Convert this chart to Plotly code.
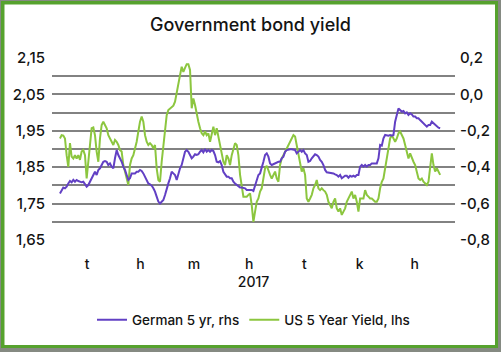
import numpy as np
import pandas as pd
import plotly.graph_objects as go

# ---------------- data ----------------
title_text = "Government bond yield"
month_labels = ["t", "h", "m", "h", "t", "k", "h"]
month_centers = ["2017-01-16", "2017-02-14 12:00", "2017-03-16", "2017-04-15 12:00",
                 "2017-05-16", "2017-06-15 12:00", "2017-07-16"]
year_label = "2017"
period_start = "2017-01-01"
period_days = 210

us_5y = [
    1.929, 1.938, 1.937, 1.929, 1.883, 1.851, 1.916, 1.879, 1.874, 1.883,
    1.874, 1.883, 1.870, 1.893, 1.897, 1.883, 1.819, 1.865, 1.911, 1.957,
    1.959, 1.938, 1.893, 1.865, 1.929, 1.966, 1.975, 1.966, 1.957, 1.938,
    1.929, 1.916, 1.911, 1.925, 1.920, 1.911, 1.897, 1.893, 1.856, 1.838,
    1.819, 1.801, 1.856, 1.874, 1.883, 1.902, 1.920, 1.948, 1.975, 1.989,
    1.975, 1.938, 1.920, 1.911, 1.916, 1.911, 1.902, 1.911,
    1.847, 1.815, 1.810, 1.865, 1.911, 1.957, 1.993, 2.007, 2.012, 2.014,
    2.019, 2.030, 2.058, 2.076, 2.103, 2.126, 2.112, 2.123, 2.133, 2.133,
    2.117, 2.012, 2.039, 2.021, 1.993, 1.975, 1.957, 1.943, 1.938, 1.948,
    1.938, 1.943, 1.920, 1.943, 1.961, 1.938, 1.957, 1.934, 1.911, 1.883,
    1.865, 1.856, 1.883, 1.874, 1.856, 1.883, 1.902, 1.916, 1.911, 1.883,
    1.829, 1.792, 1.769, 1.769, 1.769, 1.774, 1.778,
    1.746, 1.700, 1.728, 1.755, 1.764, 1.783, 1.792, 1.819, 1.847, 1.854,
    1.838, 1.829, 1.819, 1.829, 1.838, 1.819, 1.810, 1.856, 1.874, 1.883,
    1.893, 1.902, 1.911, 1.920, 1.929, 1.938, 1.934, 1.911, 1.883, 1.856,
    1.838, 1.847, 1.829, 1.764, 1.755, 1.764, 1.774, 1.792, 1.801, 1.815,
    1.792, 1.787, 1.792, 1.787, 1.783, 1.774, 1.755, 1.746, 1.737, 1.755,
    1.764, 1.737, 1.728, 1.737, 1.719, 1.728, 1.737,
    1.755, 1.764, 1.774, 1.783, 1.764, 1.774, 1.755, 1.728, 1.764, 1.764,
    1.764, 1.787, 1.774, 1.769, 1.764, 1.764, 1.760, 1.755, 1.755, 1.764,
    1.792, 1.810, 1.819, 1.847, 1.883, 1.911, 1.929, 1.938, 1.929, 1.920,
    1.929, 1.943, 1.948, 1.938, 1.929, 1.911, 1.893, 1.874, 1.888, 1.874,
    1.865, 1.856, 1.838, 1.819, 1.815, 1.819, 1.810, 1.806, 1.801, 1.810,
    1.847, 1.888, 1.856, 1.838, 1.847, 1.838, 1.829,
]

german_5y = [
    -0.544, -0.525, -0.512, -0.516, -0.507, -0.489, -0.476, -0.483, -0.470, -0.480,
    -0.470, -0.476, -0.480, -0.483, -0.480, -0.498, -0.507, -0.498, -0.480, -0.470,
    -0.443, -0.425, -0.443, -0.415, -0.406, -0.388, -0.370, -0.366, -0.370, -0.388,
    -0.379, -0.397, -0.406, -0.351, -0.306, -0.333, -0.351, -0.370, -0.397, -0.415,
    -0.443, -0.470, -0.461, -0.434, -0.434, -0.434, -0.425, -0.425, -0.415, -0.421,
    -0.434, -0.452, -0.470, -0.489, -0.494, -0.501, -0.516, -0.534,
    -0.562, -0.589, -0.599, -0.589, -0.580, -0.553, -0.516, -0.489, -0.461, -0.425,
    -0.434, -0.443, -0.470, -0.434, -0.406, -0.388, -0.351, -0.315, -0.306, -0.315,
    -0.333, -0.351, -0.342, -0.329, -0.333, -0.329, -0.315, -0.306, -0.318, -0.300,
    -0.315, -0.306, -0.315, -0.306, -0.311, -0.333, -0.370, -0.373, -0.366, -0.388,
    -0.425, -0.443, -0.452, -0.452, -0.461, -0.461, -0.480, -0.489, -0.498, -0.507,
    -0.512, -0.512, -0.512, -0.516, -0.525, -0.525, -0.525,
    -0.525, -0.531, -0.498, -0.461, -0.443, -0.434, -0.406, -0.370, -0.333, -0.324,
    -0.342, -0.379, -0.388, -0.384, -0.379, -0.373, -0.370, -0.370, -0.351, -0.342,
    -0.315, -0.306, -0.302, -0.302, -0.302, -0.302, -0.306, -0.324, -0.315, -0.306,
    -0.315, -0.306, -0.324, -0.333, -0.370, -0.366, -0.351, -0.342, -0.329, -0.333,
    -0.342, -0.360, -0.370, -0.388, -0.415, -0.428, -0.430, -0.428, -0.434, -0.434,
    -0.439, -0.443, -0.452, -0.443, -0.461, -0.452, -0.447,
    -0.447, -0.458, -0.447, -0.452, -0.447, -0.452, -0.443, -0.443, -0.397, -0.388,
    -0.397, -0.388, -0.397, -0.388, -0.388, -0.379, -0.379, -0.379, -0.379, -0.351,
    -0.278, -0.282, -0.241, -0.223, -0.227, -0.227, -0.223, -0.227, -0.223, -0.150,
    -0.113, -0.077, -0.086, -0.095, -0.091, -0.104, -0.099, -0.113, -0.104, -0.110,
    -0.122, -0.122, -0.131, -0.131, -0.141, -0.150, -0.159, -0.168, -0.177, -0.168,
    -0.168, -0.150, -0.159, -0.168, -0.177, -0.183, -0.186,
]

left_ticks = [1.65, 1.70, 1.75, 1.80, 1.85, 1.90, 1.95, 2.00, 2.05, 2.10, 2.15]
left_labels = ["1,65", "", "1,75", "", "1,85", "", "1,95", "", "2,05", "", "2,15"]
right_ticks = [-0.8, -0.6, -0.4, -0.2, 0.0, 0.2]
right_labels = ["-0,8", "-0,6", "-0,4", "-0,2", "0,0", "0,2"]

# ---------------- layout constants ----------------
W, H = 501, 352
L, R, T, B = 52, 46, 58, 112
PW, PH = W - L - R, H - T - B

def px_x(p):
    return (p - L) / PW

def px_y(p):
    return (H - B - p) / PH

FONT = "Inter"
WEIGHT = 500
TXT = "#141414"
GREEN_LINE = "#8cc63f"
PURPLE_LINE = "#6240c4"
GRID = "#828282"

def f(size):
    return dict(family=FONT, size=size, color=TXT, weight=WEIGHT)

n = len(us_5y)
dates = pd.Timestamp(period_start) + pd.to_timedelta(np.linspace(0, period_days, n), unit="D")

fig = go.Figure()
fig.add_trace(go.Scatter(x=dates, y=german_5y, name="German 5 yr, rhs", yaxis="y2",
                         mode="lines", line=dict(color=PURPLE_LINE, width=2)))
fig.add_trace(go.Scatter(x=dates, y=us_5y, name="US 5 Year Yield, lhs", yaxis="y",
                         mode="lines", line=dict(color=GREEN_LINE, width=2)))

fig.update_layout(
    width=W, height=H,
    margin=dict(l=L, r=R, t=T, b=B, autoexpand=False),
    paper_bgcolor="#858a82",
    plot_bgcolor="white",
    font=f(14),
    title=dict(text=title_text, x=0.5, xanchor="center", y=1 - 25 / H, yanchor="middle",
               yref="container", font=f(18)),
    xaxis=dict(type="date",
               range=[pd.Timestamp(period_start) - pd.Timedelta(days=4.4),
                      pd.Timestamp(period_start) + pd.Timedelta(days=218.2)],
               tickvals=month_centers, ticktext=month_labels, showgrid=False,
               zeroline=False, showline=False, ticks="", ticklabelstandoff=14,
               title=dict(text=year_label, standoff=6, font=f(14)),
               tickfont=f(14)),
    yaxis=dict(range=[1.65, 2.15], tickvals=left_ticks, ticktext=left_labels,
               showgrid=True, gridcolor=GRID, gridwidth=1.6, zeroline=False,
               showline=False, ticks="", ticklabelstandoff=6,
               tickfont=f(15)),
    yaxis2=dict(range=[-0.8, 0.2], tickvals=right_ticks, ticktext=right_labels,
                overlaying="y", side="right", showgrid=False, zeroline=False,
                showline=False, ticks="", ticklabelstandoff=4,
                tickfont=f(15)),
    legend=dict(orientation="h", x=0.5, xanchor="center", y=px_y(320), yanchor="middle",
                font=f(13.5), bgcolor="rgba(0,0,0,0)",
                itemwidth=30, tracegroupgap=0),
    showlegend=True,
    shapes=[
        dict(type="rect", xref="paper", yref="paper", layer="below",
             x0=px_x(1), x1=px_x(498), y0=px_y(348), y1=px_y(1),
             fillcolor="#56a22e", line=dict(width=0)),
        dict(type="rect", xref="paper", yref="paper", layer="below",
             x0=px_x(4.5), x1=px_x(495), y0=px_y(345), y1=px_y(4.5),
             fillcolor="white", line=dict(width=0)),
    ],
)

fig.write_html("out.html")
